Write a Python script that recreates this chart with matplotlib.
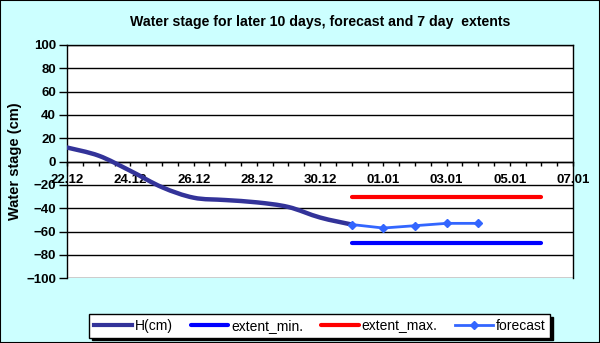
import numpy as np
import pandas as pd
import matplotlib
matplotlib.use('Agg')
import matplotlib.pyplot as plt
import matplotlib.dates as mdates
from matplotlib.patches import Rectangle, PathPatch
from matplotlib.path import Path
from matplotlib.lines import Line2D

plt.rcParams['font.family'] = ['Liberation Sans', 'DejaVu Sans']

# observed water stage
h_dates = ['2010-12-22', '2010-12-23', '2010-12-24', '2010-12-25', '2010-12-26',
           '2010-12-27', '2010-12-28', '2010-12-29', '2010-12-30', '2010-12-31']
h_values = [12, 5, -8, -22, -31, -33, -35, -39, -48, -54]

# forecast
fc_dates = ['2010-12-31', '2011-01-01', '2011-01-02', '2011-01-03', '2011-01-04']
fc_values = [-54, -57, -55, -53, -53]

# 7 day extents
ext_dates = ['2010-12-31', '2011-01-06']
ext_min = [-70, -70]
ext_max = [-30, -30]

xlim = ['2010-12-22', '2011-01-07']
title = 'Water stage for later 10 days, forecast and 7 day  extents'
labels = ['H(cm)', 'extent_min.', 'extent_max.', 'forecast']


def smooth_path(x, y):
    # excel-like smoothed line: cubic bezier through the points
    pts = np.column_stack([x, y]).astype(float)
    n = len(pts)
    verts = [pts[0]]
    codes = [Path.MOVETO]
    for i in range(n - 1):
        p0 = pts[max(i - 1, 0)]
        p1 = pts[i]
        p2 = pts[i + 1]
        p3 = pts[min(i + 2, n - 1)]
        verts += [p1 + (p2 - p0) / 6, p2 - (p3 - p1) / 6, p2]
        codes += [Path.CURVE4] * 3
    return Path(verts, codes)


hd = mdates.date2num(pd.to_datetime(h_dates))
fd = pd.to_datetime(fc_dates)
ed = pd.to_datetime(ext_dates)

fig = plt.figure(figsize=(6, 3.43), dpi=100, facecolor='#CCFFFF')
fig.patches.append(Rectangle((0, 0), 1, 1, transform=fig.transFigure, fill=False,
                             edgecolor='black', linewidth=1.5, zorder=10))
ax = fig.add_axes([0.112, 0.189, 0.843, 0.68])
ax.set_facecolor('white')

ax.add_patch(PathPatch(smooth_path(hd, h_values), facecolor='none',
                       edgecolor='#333399', lw=3.2, capstyle='round', zorder=4))
l1 = Line2D([], [], color='#333399', lw=3)
l2, = ax.plot(ed, ext_min, color='#0000FF', lw=3, solid_capstyle='round', zorder=3)
l3, = ax.plot(ed, ext_max, color='#FF0000', lw=3, solid_capstyle='round', zorder=3)
l4, = ax.plot(fd, fc_values, color='#3366FF', lw=2, marker='D', ms=4, zorder=5)

ax.set_ylim(-100, 100)
ax.set_yticks(np.arange(-100, 101, 20))
ax.set_xlim(pd.to_datetime(xlim[0]), pd.to_datetime(xlim[1]))
ax.xaxis.set_major_locator(mdates.DayLocator(interval=2))
ax.xaxis.set_minor_locator(mdates.HourLocator(byhour=[0, 12]))
ax.xaxis.set_major_formatter(mdates.DateFormatter('%d.%m'))

ax.grid(axis='y', color='black', lw=1)
ax.set_axisbelow(True)
for s in ['top', 'right', 'left']:
    ax.spines[s].set_color('black')
    ax.spines[s].set_linewidth(1)
ax.spines['bottom'].set_position(('data', 0))
ax.spines['bottom'].set_linewidth(1)

ax.tick_params(axis='y', direction='out', length=6, width=1, labelsize=9.5, pad=2)
ax.tick_params(axis='x', which='both', direction='out', length=3, width=1,
               labelsize=9.5, pad=6)
for lab in ax.get_xticklabels() + ax.get_yticklabels():
    lab.set_fontweight('bold')

ax.set_ylabel('Water stage (cm)', fontsize=10.5, fontweight='bold', labelpad=3)
fig.text(0.533, 0.935, title, ha='center', va='center', fontsize=10.2, fontweight='bold')

leg = fig.legend([l1, l2, l3, l4], labels,
                 loc='center', bbox_to_anchor=(0.533, 0.05), ncol=4, frameon=True,
                 fancybox=False, shadow={'color': 'black', 'alpha': 1},
                 edgecolor='black',
                 handlelength=2.7, columnspacing=1.3, handletextpad=0.2,
                 borderpad=0.35, prop={'weight': 'normal', 'size': 10})
leg.get_frame().set_linewidth(1)

fig.savefig('out.png', dpi=100, facecolor=fig.get_facecolor())
